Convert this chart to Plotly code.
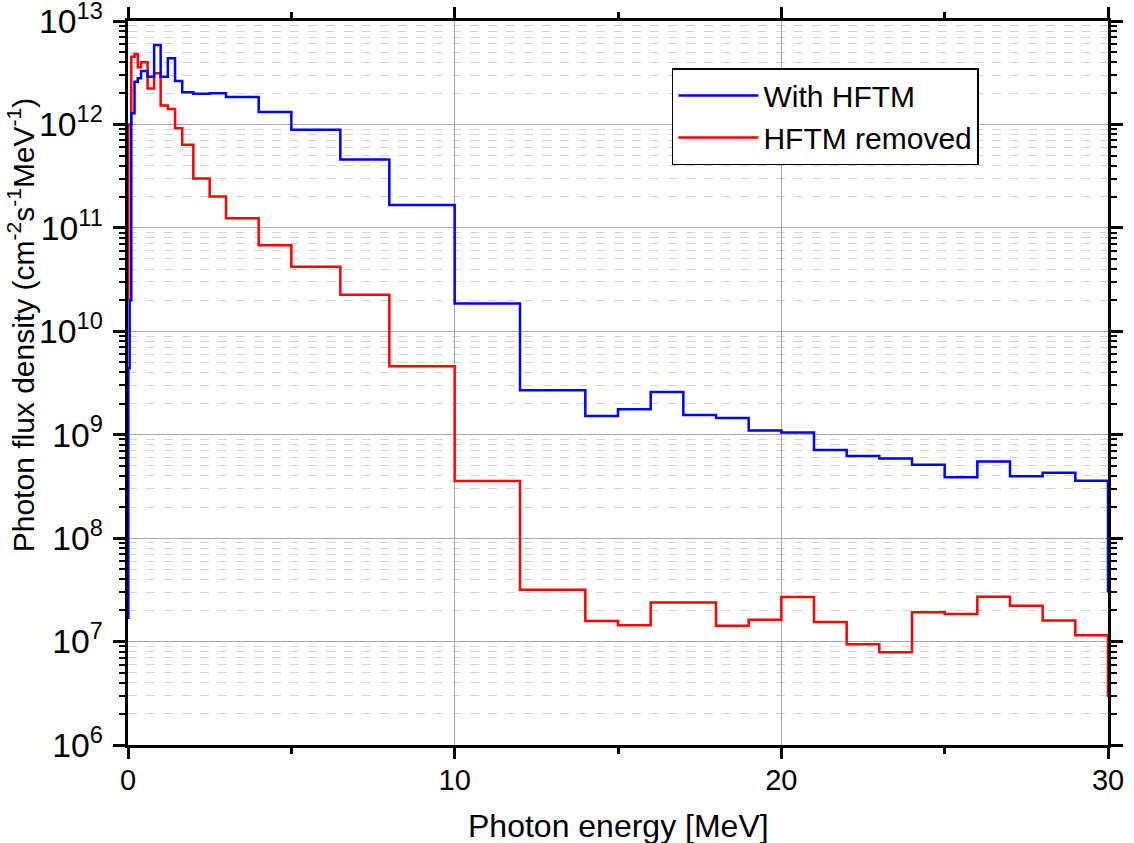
import plotly.graph_objects as go

# Energy bin lower edges (MeV) + final edge, step ("hv") data
energy_with = [0, 0.01, 0.05, 0.1, 0.2, 0.3, 0.4, 0.6, 0.8, 1.0, 1.22, 1.44, 1.66,
               2.0, 2.5, 3, 4, 5, 6.5, 8, 10, 12, 14, 15, 16, 17, 18, 19, 20,
               21, 22, 23, 24, 25, 26, 27, 28, 29, 30]
flux_with = [1.7e7, 4.4e9, 2.0e10, 1.28e12, 2.59e12, 2.79e12, 3.29e12, 2.89e12,
             5.86e12, 2.89e12, 4.36e12, 2.63e12, 2.05e12, 1.98e12, 2.0e12, 1.84e12,
             1.32e12, 8.87e11, 4.58e11, 1.66e11, 1.86e10, 2.69e9, 1.52e9, 1.76e9,
             2.59e9, 1.55e9, 1.45e9, 1.10e9, 1.05e9, 7.1e8, 6.21e8, 5.9e8, 5.12e8,
             3.89e8, 5.52e8, 3.97e8, 4.28e8, 3.58e8, 3.0e7]

energy_removed = [0, 0.01, 0.1, 0.2, 0.3, 0.4, 0.6, 0.8, 1.0, 1.22, 1.44, 1.66,
                  2.0, 2.5, 3, 4, 5, 6.5, 8, 10, 12, 14, 15, 16, 17, 18, 19, 20,
                  21, 22, 23, 24, 25, 26, 27, 28, 29, 30]
flux_removed = [2.1e10, 1.0e12, 4.52e12, 4.8e12, 3.57e12, 4.0e12, 2.23e12, 3.12e12,
                1.52e12, 1.41e12, 9.2e11, 6.35e11, 3.0e11, 2.01e11, 1.24e11, 6.8e10,
                4.2e10, 2.25e10, 4.6e9, 3.56e8, 3.17e7, 1.58e7, 1.44e7, 2.39e7,
                2.39e7, 1.42e7, 1.63e7, 2.69e7, 1.55e7, 9.4e6, 7.88e6, 1.92e7,
                1.85e7, 2.71e7, 2.22e7, 1.60e7, 1.15e7, 2.9e6]

x_title = "Photon energy [MeV]"
y_title = "Photon flux density (cm<sup>-2</sup>s<sup>-1</sup>MeV<sup>-1</sup>)"

FONT = "Liberation Sans"

fig = go.Figure()
fig.add_trace(go.Scatter(x=energy_removed, y=flux_removed, mode="lines",
                         line=dict(color="#ff0000", width=2.5, shape="hv"),
                         name="HFTM removed"))
fig.add_trace(go.Scatter(x=energy_with, y=flux_with, mode="lines",
                         line=dict(color="#0000ff", width=2.5, shape="hv"),
                         name="With HFTM"))

fig.update_layout(
    width=1134, height=843,
    margin=dict(l=128, r=26, t=21, b=98, autoexpand=False),
    plot_bgcolor="white", paper_bgcolor="white",
    font=dict(family=FONT, color="black"),
    legend=dict(x=0.555, y=0.935, xanchor="left", yanchor="top",
                bgcolor="white", bordercolor="black", borderwidth=1.5,
                font=dict(size=30, family=FONT), itemwidth=80,
                traceorder="reversed", tracegroupgap=0),
    annotations=[
        dict(text=x_title, xref="paper", yref="paper", x=0.5, y=-0.112,
             xanchor="center", yanchor="middle", showarrow=False,
             font=dict(size=32, family=FONT)),
        dict(text=y_title, xref="paper", yref="paper", x=-0.109, y=0.58,
             xanchor="center", yanchor="middle", showarrow=False, textangle=-90,
             font=dict(size=30, family=FONT)),
    ],
)

fig.update_xaxes(
    range=[0, 30], dtick=10, tick0=0, automargin=False,
    showline=True, linecolor="black", linewidth=2.5, mirror="allticks",
    ticks="outside", ticklen=11, tickwidth=2.5, tickcolor="black",
    tickfont=dict(size=29, family=FONT), ticklabelstandoff=-4,
    showgrid=True, gridcolor="#a8a8a8", gridwidth=1,
    zeroline=False,
    minor=dict(dtick=5, ticks="outside", ticklen=6, tickwidth=2.5,
               tickcolor="black", showgrid=False),
)

fig.update_yaxes(
    type="log", range=[6, 13], dtick=1, automargin=False,
    exponentformat="power", showexponent="all", ticklabeloverflow="allow",
    showline=True, linecolor="black", linewidth=2.5, mirror="allticks",
    ticks="outside", ticklen=12, tickwidth=2.5, tickcolor="black",
    tickfont=dict(size=27, family=FONT), ticklabelstandoff=5,
    showgrid=True, gridcolor="#a8a8a8", gridwidth=1,
    zeroline=False,
    minor=dict(dtick="D1", ticks="outside", ticklen=6, tickwidth=2,
               tickcolor="black", showgrid=True, gridcolor="#d4d4d4",
               griddash="dash", gridwidth=1),
)

fig.write_html("out.html")
